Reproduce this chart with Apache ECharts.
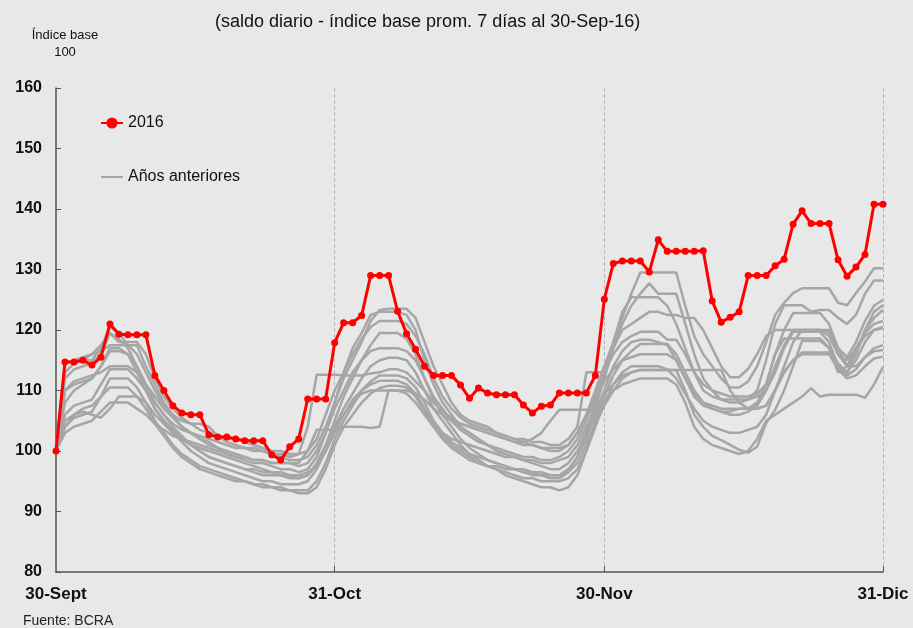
<!DOCTYPE html>
<html>
<head>
<meta charset="utf-8">
<script src="https://cdn.jsdelivr.net/npm/echarts@6/dist/echarts.min.js"></script>
<style>
  html, body { margin: 0; padding: 0; background: #e8e8e8; }
  #chart { width: 913px; height: 628px; }
</style>
</head>
<body>
<div id="chart"></div>
<script>
// Days from 30-Sep to 31-Dec (93 daily points)
const dayCount = 93;
const tickIndex = [0, 31, 61, 92];
const tickLabels = ['30-Sept', '31-Oct', '30-Nov', '31-Dic'];

// 2016 daily balance index (base: 7-day average to 30-Sep-16 = 100)
const serie2016 = [
  100, 114.7, 114.7, 115, 114.2, 115.5, 121, 119.3, 119.2, 119.2,
  119.2, 112.5, 110, 107.5, 106.3, 106, 106, 102.7, 102.3, 102.3,
  102, 101.7, 101.7, 101.7, 99.4, 98.5, 100.7, 102, 108.6, 108.6,
  108.6, 117.9, 121.2, 121.2, 122.4, 129, 129, 129, 123.1, 119.4,
  116.8, 114, 112.5, 112.5, 112.5, 110.9, 108.7, 110.4, 109.6, 109.3,
  109.3, 109.3, 107.6, 106.3, 107.4, 107.6, 109.6, 109.6, 109.6, 109.6,
  112.5, 125.1, 131, 131.4, 131.4, 131.4, 129.6, 134.9, 133, 133,
  133, 133, 133.1, 124.8, 121.3, 122.1, 123, 129, 129, 129,
  130.6, 131.7, 137.5, 139.7, 137.6, 137.6, 137.6, 131.6, 128.9, 130.4,
  132.5, 140.8, 140.8
];

// Previous years, same index
const anterior01 = [
  100, 112, 113.5, 114, 114.5, 116, 119.5, 118, 118, 118, 116,
  112, 109, 107, 105.5, 104.5, 104.5, 104, 102.5, 101.5, 101,
  100.5, 100.5, 100, 99.5, 99, 98.5, 98.5, 99, 101,
  104, 108, 112, 115, 118, 121.5,
  123.3, 123.5, 123.5, 123.5, 122, 118, 114,
  111, 108, 106, 105, 104.5, 104, 103, 102.5, 102,
  101.5, 101, 100.5, 100, 100, 101, 103, 106,
  110, 114, 118, 122,
  126, 129.5, 129.5, 129.5, 129.5, 129.5, 124, 119, 116,
  114, 112, 110.5, 110.5, 111.5, 114, 118, 122.5,
  124.5, 126.1, 126.9, 126.9, 126.9, 126.9, 124.5, 124.1, 126.1, 128, 130.2, 130.2
];
const anterior02 = [
  100, 113, 114.5, 115, 115, 117, 120.5, 119.5, 117.5, 117.5, 114,
  111, 108, 106, 104, 103, 102, 101.5, 100.5, 99.5, 99,
  98.5, 98, 98, 97.5, 97, 97, 96.5, 97, 99,
  103, 108, 113, 117, 119.5, 122.5,
  123, 123, 123, 122.5, 120, 115, 111,
  108, 106, 104, 103, 102, 101, 100, 99.5, 99,
  98.5, 98, 97.5, 97, 97, 98, 100, 103,
  107, 112, 117, 121,
  124, 126, 127.7, 126, 126, 126, 121, 116, 112,
  110, 108.5, 108, 108, 108.5, 110, 115, 121,
  124.1, 124.1, 124.1, 123, 123.3, 123.3, 122, 121, 122.5, 126, 128.2, 128.2
];
const anterior03 = [
  100, 114.5, 115, 115.5, 116, 116.5, 117.5, 117.5, 117.5, 116, 113,
  110, 107.5, 106, 105, 104.5, 103.5, 103, 102.5, 102, 102,
  101.5, 101, 100.5, 100, 100, 99.5, 99.5, 100, 102,
  106, 110, 113, 116, 118.5, 120.5,
  121.5, 121.5, 121.5, 121, 119, 116, 112,
  109, 107, 105.5, 104.5, 104, 103.5, 103, 102.5, 102,
  102, 101.5, 101.5, 101, 101, 102, 104, 113,
  113, 113, 118, 123,
  125.4, 125.4, 125.4, 125.4, 124, 121, 117, 113, 111,
  110, 109.5, 109, 109, 109, 109.5, 111, 116,
  120, 122.8, 122.8, 122.8, 122.8, 121, 117, 115.5, 118, 121.5, 124, 125
];
const anterior04 = [
  100, 108, 110, 111, 112, 114, 116.5, 116.5, 116, 114, 111,
  108, 106, 104, 102.5, 101, 100, 99, 98.5, 98, 97.5,
  97, 96.5, 96, 96, 96, 95.5, 95.5, 96, 98,
  101, 105, 109, 112, 115, 117.5,
  119.5, 119.5, 119.5, 118.5, 116, 112, 108.5,
  106, 104, 102, 100.5, 99.5, 98.5, 98, 97.5, 97,
  96.5, 96, 96, 95.5, 95.5, 96.5, 99, 103,
  108, 113, 117, 120,
  121, 122, 123, 123, 122.5, 122.5, 122, 122, 120,
  117, 114, 112.2, 112.2, 113.6, 116, 119, 120,
  120, 120, 120, 120, 120, 120, 117, 114, 116, 120, 123, 124.1
];
const anterior05 = [
  100, 110, 111.5, 112, 112.5, 113, 114, 114, 114, 113, 111,
  109, 107, 105.5, 104, 103, 102, 101, 100.5, 100, 99.5,
  99, 98.5, 98.5, 98, 98, 98, 97.5, 98, 100,
  103, 107, 110, 113, 115, 116.5,
  117, 117, 117, 116.5, 115, 112, 109,
  107, 105, 103.5, 102.5, 101.5, 101, 100.5, 100, 99.5,
  99, 99, 98.5, 98.5, 99, 100, 102, 105,
  109, 113, 116, 118,
  119, 119.7, 119.7, 119.7, 118.4, 118.4, 116, 113, 110,
  109, 108.5, 108.5, 108.5, 108.5, 109, 110, 113,
  117, 119.7, 119.7, 119.7, 119.7, 118, 114, 113, 116, 120, 122, 123.3
];
const anterior06 = [
  100, 106, 107.5, 108, 108.5, 111, 113.5, 113.5, 113.5, 112, 110,
  107, 105, 103, 101.5, 100, 99, 98, 97.5, 97, 96.5,
  96, 95.5, 95, 95, 94.5, 94.5, 94.5, 95, 97,
  100, 104, 107, 109.5, 112, 114,
  115, 115.4, 115.4, 115, 113, 110, 107,
  105, 103, 101, 99.5, 98.5, 97.5, 97, 96, 95.5,
  95, 94.5, 94, 94, 93.5, 94, 96, 100,
  105, 109, 112.5, 115,
  116.5, 117.7, 117.7, 117.7, 117.7, 116, 113, 110, 108,
  107, 106.5, 106.5, 107, 107, 108, 111, 116,
  118.6, 118.6, 118.6, 118.6, 118.6, 117, 113, 114, 117, 119.5, 121, 121.5
];
const anterior07 = [
  100, 114.7, 114.7, 115, 116, 117.5, 119.5, 118.5, 117, 114, 111,
  108, 106, 104.5, 103.5, 103, 102.5, 102, 101.5, 101, 100.5,
  100.5, 100, 100, 99.5, 99.5, 99, 99.5, 104, 112.6,
  112.6, 112.6, 112.5, 112.5, 112.5, 112.8,
  113, 113.5, 113.5, 113, 111.5, 110, 108,
  106.5, 105.5, 104.5, 104, 103.5, 103, 102.5, 102, 101.5,
  101, 101, 100.5, 100.5, 100.5, 101, 103, 106,
  109, 111.5, 113.5, 115,
  115.5, 116, 116, 116, 116, 115, 112, 109, 107.5,
  107, 106.5, 106, 106, 106.5, 107.5, 110, 114,
  117.5, 120, 120, 120, 120, 119, 116, 115, 117, 119, 120, 120.5
];
const anterior08 = [
  100, 104, 105.5, 106, 106.5, 109, 112, 112, 112, 110.5, 108,
  105, 103, 101, 99.5, 98.5, 97.5, 97, 96.5, 96, 95.5,
  95, 94.5, 94.5, 94, 94, 93.5, 93.5, 93.5, 95,
  98, 102, 105, 107.5, 110, 111.5,
  112.5, 112.5, 112.5, 112, 110.5, 108, 105,
  103, 101.5, 100.5, 99.5, 99, 98.5, 98, 97.5, 97,
  97, 96.5, 96.5, 96, 96, 96.5, 98, 101,
  104.5, 107.5, 110, 112,
  113, 113.4, 113.4, 113.4, 113.4, 113.4, 110, 106, 104,
  102.5, 101.8, 101, 100.2, 99.7, 100.7, 104.6, 106.8,
  110, 114, 118.2, 118.2, 118.2, 117, 114.5, 113, 115, 118, 120, 120.3
];
const anterior09 = [
  100, 110, 111, 111.5, 112, 114, 117, 117, 116, 113, 110,
  107, 105, 103.5, 102, 101, 100, 99, 98.5, 98, 97.5,
  97, 97, 96.5, 96.5, 96, 96, 95.5, 96, 97.5,
  100, 103, 106, 108.5, 110, 111,
  111.6, 111.6, 111.6, 111, 109.5, 107, 104.5,
  102.5, 101, 100, 99, 98, 97.5, 97, 96.5, 96,
  95.5, 95.5, 95, 95, 95, 95.5, 97, 100,
  104, 108, 111, 113,
  114, 114, 114, 114, 113.5, 112, 109.5, 107, 105,
  104, 103.5, 103, 103, 103.5, 104, 106, 110,
  113, 115, 116.3, 116.3, 116.3, 116.3, 114, 112.5, 113.5, 115.5, 117, 117.5
];
const anterior10 = [
  100, 104, 106, 107, 107.5, 109, 110.5, 110.5, 110.5, 109, 107,
  104.5, 102.5, 100.5, 99, 98, 97, 96.5, 96, 95.5, 95,
  95, 94.5, 94, 94, 93.5, 93.5, 93, 93, 94,
  97, 101, 104, 106, 108, 109.5,
  110.4, 110.8, 110.8, 110.5, 109, 106.5, 104,
  102, 100.5, 99.5, 98.5, 98, 97.5, 97.5, 97, 97,
  96.5, 96.5, 96, 96, 96, 97, 99, 102,
  106, 110, 114, 116.5,
  118, 118.4, 118.4, 118, 117.5, 115, 112, 109.5, 108,
  107.5, 107, 107, 107, 107, 107, 107.5, 110,
  114, 118, 120, 120, 120, 119.7, 116, 114, 114, 115.5, 116.5, 116.7
];
const anterior11 = [
  100, 105, 106, 106.5, 106, 105.5, 107, 109, 109, 109, 108,
  106, 104.5, 103, 102, 101, 100.5, 100, 99.5, 99, 98.5,
  98, 97.5, 97, 96.5, 96.5, 96, 96, 96.5, 97.5,
  100, 103.5, 106, 108, 109.5, 110,
  110, 110, 110, 109.5, 108, 106, 104,
  103, 102, 101.5, 101, 100.5, 100, 99.5, 99, 99,
  98.5, 98.5, 98, 98, 98.5, 99, 101, 104,
  107, 109.5, 111, 112.5,
  113, 113.4, 113.4, 113.4, 113.4, 113.4, 113.4, 113.4, 113.4,
  113.4, 113.4, 110, 108, 107, 107, 107.5, 110,
  113, 115, 116, 116, 116, 116, 113.5, 112, 112.5, 114, 115.3, 115.6
];
const anterior12 = [
  100, 103, 104, 104.5, 105, 106.5, 108, 108, 108, 107, 106,
  104.5, 103.5, 102.5, 102, 101.5, 101, 100.5, 100, 99.5, 99,
  99, 98.5, 98.5, 98, 98, 98, 98, 100, 103.5,
  103.5, 103.5, 104, 104, 104, 103.8,
  104, 110, 110, 110, 109.5, 108.5, 107,
  106, 105, 104.5, 104, 103.5, 103, 102.5, 102, 101.5,
  101.5, 102, 103, 105, 106.8, 106.8, 106.8, 106.8,
  106.8, 108, 110, 111,
  111.5, 112, 112, 112, 112, 111, 108, 104, 102,
  101, 100.5, 100, 99.5, 100, 102, 105, 106,
  107, 108, 109, 110.4, 109, 109.3, 109.3, 109.3, 109.3, 108.8, 111, 113.9
];
const anteriores = [anterior01, anterior02, anterior03, anterior04, anterior05, anterior06,
                    anterior07, anterior08, anterior09, anterior10, anterior11, anterior12];

// Category labels: one per calendar day
const categories = [];
(function () {
  const d = new Date(2016, 8, 30);
  for (let i = 0; i < dayCount; i++) {
    categories.push(d.getDate() + '/' + (d.getMonth() + 1));
    d.setDate(d.getDate() + 1);
  }
})();

const FONT = "'Liberation Sans Narrow', 'Liberation Sans', Arial, sans-serif";
const GRAY = '#a6a6a6';
const RED = '#ff0000';

const series = anteriores.map(function (vals) {
  return {
    name: 'Años anteriores',
    type: 'line',
    data: vals,
    symbol: 'none',
    lineStyle: { color: GRAY, width: 2.5 },
    itemStyle: { color: GRAY },
    z: 2,
    silent: true
  };
});
series.push({
  name: '2016',
  type: 'line',
  data: serie2016,
  symbol: 'circle',
  symbolSize: 7,
  showAllSymbol: true,
  lineStyle: { color: RED, width: 3 },
  itemStyle: { color: RED },
  z: 5
});

const chart = echarts.init(document.getElementById('chart'), null, { renderer: 'canvas' });
chart.setOption({
  backgroundColor: '#e8e8e8',
  animation: false,
  textStyle: { fontFamily: FONT },
  title: [
    {
      text: '(saldo diario - índice base prom. 7 días al 30-Sep-16)',
      left: 210, top: 8,
      textStyle: { fontFamily: FONT, fontSize: 18, fontWeight: 'normal', color: '#111' }
    },
    {
      text: 'Índice base\n100',
      left: 60, top: 22, textAlign: 'center',
      textStyle: { fontFamily: FONT, fontSize: 13, fontWeight: 'normal', color: '#111', lineHeight: 17, align: 'center' }
    },
    {
      text: 'Fuente: BCRA',
      left: 18, top: 609,
      textStyle: { fontFamily: FONT, fontSize: 14, fontWeight: 'normal', color: '#222' }
    }
  ],
  legend: {
    data: [
      { name: '2016' },
      { name: 'Años anteriores', itemStyle: { opacity: 0 } }
    ],
    orient: 'vertical',
    left: 95, top: 110,
    itemWidth: 22, itemHeight: 14,
    itemGap: 38,
    textStyle: { fontFamily: FONT, fontSize: 16, color: '#111' }
  },
  grid: { left: 56, right: 30, top: 88, bottom: 56, containLabel: false },
  xAxis: {
    type: 'category',
    data: categories,
    boundaryGap: false,
    axisLine: { lineStyle: { color: '#555', width: 1.5 } },
    axisTick: {
      inside: true, length: 6,
      interval: function (i) { return tickIndex.indexOf(i) > 0; },
      lineStyle: { color: '#555' }
    },
    axisLabel: {
      interval: function (i) { return tickIndex.indexOf(i) >= 0; },
      formatter: function (v, i) { return tickLabels[tickIndex.indexOf(i)]; },
      fontFamily: FONT, fontSize: 17, fontWeight: 'bold', color: '#111', margin: 14
    },
    splitLine: {
      show: true,
      interval: function (i) { return tickIndex.indexOf(i) > 0; },
      lineStyle: { color: '#b8b8b8', type: 'dashed', width: 1 }
    }
  },
  yAxis: {
    type: 'value',
    min: 80, max: 160, interval: 10,
    axisLine: { show: true, lineStyle: { color: '#555', width: 1.5 } },
    axisTick: { show: true, inside: true, length: 5, lineStyle: { color: '#555' } },
    axisLabel: { fontFamily: FONT, fontSize: 16, fontWeight: 'bold', color: '#111', margin: 14 },
    splitLine: { show: false }
  },
  series: series
});
</script>
</body>
</html>
